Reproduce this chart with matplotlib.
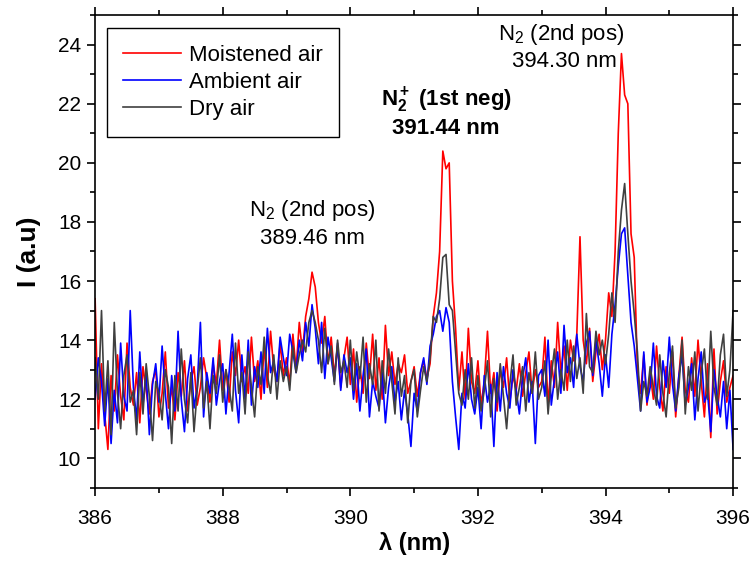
import numpy as np
import matplotlib
matplotlib.use("Agg")
import matplotlib.pyplot as plt
from matplotlib.ticker import MultipleLocator

plt.rcParams['font.family'] = ['Liberation Sans', 'DejaVu Sans']
plt.rcParams['mathtext.fontset'] = 'custom'
plt.rcParams['mathtext.rm'] = 'Liberation Sans'
plt.rcParams['mathtext.it'] = 'Liberation Sans:italic'
plt.rcParams['mathtext.bf'] = 'Liberation Sans:bold'

# wavelength grid (nm), 0.05 nm step
wavelength = np.round(np.linspace(386.0, 396.0, 201), 2)

# Moistened air
moist = [
    15.4, 11.0, 13.2, 11.5, 10.3, 12.8, 11.6, 13.5, 12.1, 11.3, 13.9, 12.4, 11.8, 12.9, 11.2, 13.1, 12.3, 11.5, 12.6, 13.0,
    11.4, 12.2, 13.6, 11.7, 12.4, 11.3, 12.9, 12.1, 13.3, 11.6, 12.6, 13.1, 11.8, 12.4, 13.4, 12.7, 11.9, 13.2, 12.5, 14.0,
    12.3, 13.0, 11.9, 13.6, 12.8, 14.0, 12.6, 13.1, 12.2, 14.1, 12.6, 13.3, 12.0, 13.8, 12.4, 14.3, 13.0, 12.6, 13.9, 12.8,
    13.4, 12.5, 14.2, 13.0, 14.6, 13.6, 14.8, 15.4, 16.3, 15.8, 14.6, 13.9, 14.8, 13.2, 14.1, 12.8, 13.8, 12.4, 13.4, 14.1,
    12.5, 13.7, 11.9, 13.1, 12.2, 13.9, 12.7, 14.2, 12.3, 13.4, 12.0, 14.5, 12.8, 13.6, 12.5, 13.2, 12.9, 13.5, 12.2, 12.6,
    13.1, 12.1, 12.9, 13.3, 12.7, 13.2, 14.8, 15.6, 17.0, 20.4, 19.8, 20.0, 16.0, 14.4, 12.3, 13.6, 12.0, 14.4, 12.6, 12.2,
    13.3, 11.8, 12.6, 14.3, 12.2, 12.9, 11.6, 13.0, 12.4, 13.4, 11.9, 12.8, 12.3, 13.2, 12.1, 12.9, 13.6, 12.2, 13.0, 12.4,
    12.6, 14.1, 11.8, 13.3, 12.4, 14.6, 12.9, 13.8, 12.3, 14.0, 13.3, 14.2, 17.5, 14.0, 13.2, 14.4, 12.6, 13.6, 14.2, 13.0,
    14.0, 15.6, 14.8, 17.0, 21.0, 23.7, 22.3, 22.0, 17.6, 16.8, 13.0, 12.2, 13.5, 11.8, 12.9, 12.0, 13.8, 12.4, 11.6, 13.1,
    12.2, 13.6, 11.4, 12.8, 14.1, 12.3, 11.9, 13.4, 12.1, 14.0, 12.6, 11.4, 13.2, 10.7, 13.7, 11.5, 12.6, 13.3, 11.9, 12.4,
    12.8,
]

# Ambient air
ambient = [
    12.0, 13.4, 12.6, 11.1, 12.7, 10.5, 12.3, 11.2, 13.9, 12.1, 11.6, 15.0, 12.4, 11.3, 13.6, 11.8, 12.9, 10.8, 12.5, 13.2,
    11.9, 13.8, 12.2, 11.0, 12.8, 11.6, 14.3, 12.0, 10.9, 12.7, 13.5, 11.7, 12.4, 14.6, 11.4, 12.9, 12.2, 13.4, 11.8, 12.6,
    13.2, 11.5, 12.9, 14.2, 12.3, 11.2, 13.5, 12.0, 14.0, 11.8, 13.1, 12.4, 13.6, 12.2, 14.4, 12.9, 13.3, 12.6, 14.1, 13.4,
    12.8, 14.2, 13.6, 12.9, 14.0, 13.3, 14.6, 13.8, 15.2, 14.4, 13.2, 14.6, 12.7, 14.1, 13.4, 12.6, 13.9, 12.3, 13.5, 12.9,
    13.4, 12.0, 13.2, 11.6, 12.8, 13.7, 11.4, 12.6, 12.1, 11.7, 12.9, 11.2, 12.4, 13.1, 11.9, 12.6, 11.3, 12.3, 11.5, 10.4,
    12.2, 11.6, 12.9, 13.4, 12.5, 13.8, 14.2, 14.8, 15.0, 14.3, 15.1, 14.6, 12.6, 11.4, 10.3, 12.2, 11.7, 13.2, 12.0, 11.5,
    12.4, 11.0, 12.8, 11.9, 12.5, 10.4, 12.9, 11.6, 13.1, 12.2, 11.7, 13.0, 12.3, 11.5, 12.7, 13.4, 11.9, 12.6, 10.5, 12.8,
    13.0, 12.1, 14.0, 11.8, 12.7, 13.6, 12.2, 14.5, 12.9, 13.4, 12.4, 14.2, 13.1, 12.6, 13.9, 14.3, 12.8, 14.0, 13.2, 12.1,
    13.5, 12.4, 14.2, 15.2, 16.5, 17.6, 17.8, 16.2, 14.6, 13.8, 12.7, 11.6, 13.6, 11.9, 12.4, 13.9, 12.1, 11.7, 13.3, 12.4,
    14.1, 12.5, 11.6, 12.8, 13.5, 11.8, 12.4, 13.2, 11.3, 12.7, 13.6, 11.9, 12.2, 10.9, 13.0, 12.1, 11.4, 12.6, 11.0, 12.3,
    10.3,
]

# Dry air
dry = [
    13.4, 12.0, 15.0, 11.6, 13.3, 10.8, 14.6, 12.2, 11.0, 12.8, 13.5, 11.9, 12.3, 10.8, 12.9, 11.5, 13.2, 12.1, 10.6, 12.6,
    12.2, 11.3, 13.0, 12.4, 10.5, 12.8, 11.6, 13.7, 12.0, 11.2, 12.9, 10.9, 12.3, 13.4, 11.7, 12.6, 11.0, 12.8, 12.2, 13.5,
    11.9, 13.0, 12.4, 11.6, 13.9, 12.2, 12.9, 11.5, 13.6, 12.4, 11.4, 13.1, 12.5, 14.1, 12.8, 12.2, 13.5, 12.0, 13.3, 12.6,
    13.1, 12.3, 13.8, 12.9, 13.5, 14.0, 13.6, 14.6, 15.0, 14.6, 14.0, 12.9, 14.4, 13.2, 13.8, 12.5, 14.0, 12.9, 13.3, 12.4,
    14.0, 12.3, 13.6, 12.7, 14.1, 11.9, 13.2, 12.5, 14.0, 11.6, 13.3, 12.2, 13.7, 12.6, 11.5, 13.4, 12.1, 12.8, 11.2, 12.6,
    13.0, 11.4, 12.3, 13.1, 12.6, 13.4, 14.8, 14.6, 15.4, 16.8, 16.9, 15.2, 15.0, 13.6, 12.2, 11.8, 13.0, 12.0, 13.4, 11.7,
    12.8, 11.6, 12.3, 13.3, 11.4, 12.7, 11.9, 13.2, 12.1, 11.0, 12.5, 13.5, 11.8, 12.4, 13.1, 11.6, 12.9, 12.2, 13.6, 12.0,
    12.4, 13.3, 11.5, 12.8, 13.7, 12.0, 13.0, 12.3, 14.0, 12.6, 13.8, 12.7, 13.4, 12.2, 14.9, 13.1, 12.9, 14.3, 13.5, 14.0,
    13.2, 14.2, 15.6, 14.6, 17.0, 18.4, 19.3, 17.6, 16.0, 14.9, 13.6, 11.6, 12.6, 12.1, 13.1, 12.4, 11.8, 13.5, 12.2, 11.4,
    12.9, 13.8, 11.7, 12.4, 14.0, 11.5, 13.1, 12.3, 13.6, 11.6, 12.9, 13.7, 12.0, 14.3, 12.4, 11.8, 13.5, 14.2, 12.1, 13.0,
    15.0,
]

labels = ["Moistened air", "Ambient air", "Dry air"]
colors = ["#ff0000", "#0000ff", "#404040"]

fig = plt.figure(figsize=(7.55, 5.62), dpi=100)
ax = fig.add_axes([0.126, 0.132, 0.845, 0.841])

for y, lab, c in zip([moist, ambient, dry], labels, colors):
    ax.plot(wavelength, y, color=c, lw=1.2, label=lab)

ax.set_xlim(386, 396)
ax.set_ylim(9, 25)
ax.xaxis.set_major_locator(MultipleLocator(2))
ax.xaxis.set_minor_locator(MultipleLocator(1))
ax.yaxis.set_major_locator(MultipleLocator(2))
ax.yaxis.set_minor_locator(MultipleLocator(1))
ax.tick_params(which='both', direction='out', top=True, right=True,
               labeltop=False, labelright=False, width=1.2, labelsize=15)
ax.tick_params(which='major', length=6, pad=4)
ax.tick_params(which='minor', length=3.5)
ax.tick_params(axis='x', which='major', pad=9)
for s in ax.spines.values():
    s.set_linewidth(1.2)

ax.set_xlabel("λ (nm)", fontsize=17, fontweight='bold', labelpad=3)
ax.set_ylabel("I (a.u)", fontsize=19, fontweight='bold', labelpad=12)

ax.text(389.4, 18.4, "N$_2$ (2nd pos)", fontsize=16, ha='center', va='center')
ax.text(389.4, 17.45, "389.46 nm", fontsize=16, ha='center', va='center')
ax.text(391.5, 22.1, r"$\mathbf{N_2^+}$ (1st neg)", fontsize=16, fontweight='bold',
        ha='center', va='center')
ax.text(391.5, 21.15, "391.44 nm", fontsize=16, fontweight='bold', ha='center', va='center')
ax.text(393.3, 24.35, "N$_2$ (2nd pos)", fontsize=16, ha='center', va='center')
ax.text(393.35, 23.42, "394.30 nm", fontsize=16, ha='center', va='center')

leg = ax.legend(loc='upper left', bbox_to_anchor=(0.018, 0.973), fontsize=16,
                fancybox=False, framealpha=1, edgecolor='black',
                handlelength=2.6, handletextpad=0.35, labelspacing=0.28,
                borderpad=0.75, borderaxespad=0)
leg.get_frame().set_linewidth(1.0)

fig.savefig("out.png", dpi=100)
